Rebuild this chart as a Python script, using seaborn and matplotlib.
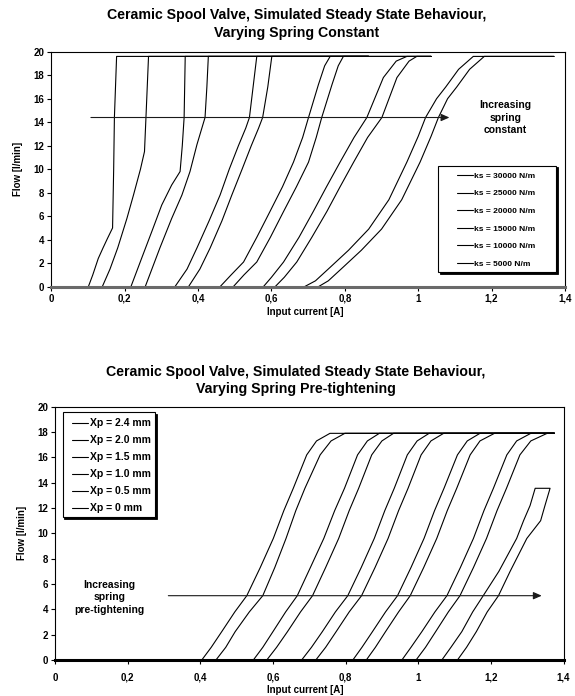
import pandas as pd
import numpy as np
import matplotlib
matplotlib.use("Agg")
import matplotlib.pyplot as plt
import seaborn as sns
from matplotlib.patches import Rectangle

# ---- top chart: varying spring constant (ks) ----
# each loop: "up" branch (right curve) and "down" branch (left curve)
ks_labels = ["ks = 30000 N/m", "ks = 25000 N/m", "ks = 20000 N/m",
             "ks = 15000 N/m", "ks = 10000 N/m", "ks = 5000 N/m"]

ks5000_down_i = [0.101, 0.113, 0.128, 0.141, 0.153, 0.167, 0.170, 0.172, 0.178]
ks5000_down_q = [0, 1.0, 2.4, 3.3, 4.1, 5.0, 10.0, 14.4, 19.6]
ks5000_up_i = [0.139, 0.160, 0.181, 0.206, 0.224, 0.243, 0.254, 0.258, 0.265]
ks5000_up_q = [0, 1.5, 3.3, 5.8, 7.8, 10.0, 11.5, 14.4, 19.6]

ks10000_down_i = [0.217, 0.246, 0.274, 0.301, 0.328, 0.351, 0.357, 0.362, 0.365]
ks10000_down_q = [0, 2.4, 4.7, 6.95, 8.65, 9.8, 12.0, 14.4, 19.6]
ks10000_up_i = [0.256, 0.296, 0.328, 0.356, 0.378, 0.397, 0.419, 0.424, 0.428]
ks10000_up_q = [0, 3.3, 5.8, 7.8, 9.8, 12.1, 14.4, 17.0, 19.6]

ks15000_down_i = [0.337, 0.370, 0.397, 0.430, 0.460, 0.485, 0.510, 0.530, 0.540, 0.550, 0.560]
ks15000_up_i = [0.374, 0.405, 0.433, 0.465, 0.492, 0.520, 0.545, 0.565, 0.576, 0.590, 0.601]
ks15000_q = [0, 1.5, 3.3, 5.6, 7.8, 10.0, 12.0, 13.5, 14.4, 17.0, 19.6]

ks20000_down_i = [0.460, 0.490, 0.524, 0.560, 0.596, 0.630, 0.660, 0.685, 0.701, 0.728, 0.745, 0.760]
ks20000_up_i = [0.496, 0.525, 0.560, 0.597, 0.633, 0.668, 0.701, 0.722, 0.737, 0.765, 0.782, 0.796]
ks20000_q = [0, 1.0, 2.1, 4.2, 6.4, 8.5, 10.6, 12.7, 14.4, 17.2, 18.8, 19.6]

ks25000_down_i = [0.578, 0.600, 0.633, 0.675, 0.714, 0.750, 0.787, 0.825, 0.860, 0.905, 0.940, 0.969]
ks25000_up_i = [0.610, 0.635, 0.669, 0.710, 0.751, 0.787, 0.824, 0.862, 0.901, 0.942, 0.975, 0.996]
ks25000_q = [0, 0.8, 2.1, 4.2, 6.4, 8.5, 10.6, 12.7, 14.4, 17.8, 19.2, 19.6]

ks30000_down_i = [0.690, 0.720, 0.760, 0.810, 0.865, 0.920, 0.969, 1.000, 1.020, 1.050, 1.075, 1.110, 1.150]
ks30000_up_i = [0.728, 0.755, 0.795, 0.845, 0.900, 0.955, 1.005, 1.035, 1.055, 1.080, 1.105, 1.140, 1.180]
ks30000_q = [0, 0.5, 1.65, 3.1, 4.9, 7.4, 10.6, 12.8, 14.4, 16.0, 17.0, 18.5, 19.6]

# maximum input current of each loop (30000 ... 5000)
ks_max_i = [1.37, 1.035, 1.035, 0.865, 0.865, 0.865]

# ---- bottom chart: varying spring pre-tightening (Xp) ----
xp_labels = ["Xp = 2.4 mm", "Xp = 2.0 mm", "Xp = 1.5 mm",
             "Xp = 1.0 mm", "Xp = 0.5 mm", "Xp = 0 mm"]

xp_q = [0, 1.0, 2.24, 3.8, 5.08, 7.3, 9.6, 11.8, 13.56, 16.2, 17.3, 17.9]
xp0_down_i = [0.404, 0.430, 0.459, 0.495, 0.528, 0.565, 0.601, 0.630, 0.656, 0.693, 0.720, 0.757]
xp0_up_i = [0.443, 0.470, 0.496, 0.535, 0.572, 0.605, 0.636, 0.663, 0.688, 0.730, 0.760, 0.798]
xp05_down_i = [0.546, 0.572, 0.600, 0.635, 0.667, 0.703, 0.740, 0.770, 0.797, 0.833, 0.860, 0.893]
xp05_up_i = [0.583, 0.610, 0.640, 0.676, 0.709, 0.745, 0.781, 0.810, 0.836, 0.872, 0.900, 0.932]
xp10_down_i = [0.679, 0.706, 0.736, 0.772, 0.806, 0.843, 0.879, 0.908, 0.934, 0.970, 0.997, 1.030]
xp10_up_i = [0.718, 0.745, 0.774, 0.810, 0.844, 0.881, 0.917, 0.946, 0.972, 1.008, 1.035, 1.070]
xp15_down_i = [0.820, 0.845, 0.874, 0.910, 0.943, 0.980, 1.016, 1.045, 1.071, 1.108, 1.135, 1.170]
xp15_up_i = [0.857, 0.882, 0.910, 0.946, 0.978, 1.015, 1.051, 1.080, 1.106, 1.143, 1.170, 1.210]
xp20_down_i = [0.955, 0.980, 1.010, 1.046, 1.079, 1.116, 1.152, 1.181, 1.207, 1.244, 1.271, 1.310]
xp20_up_i = [0.994, 1.020, 1.048, 1.083, 1.115, 1.152, 1.188, 1.217, 1.243, 1.280, 1.310, 1.355]

xp24_q = [0, 1.0, 2.24, 3.8, 5.08, 7.0, 9.6, 11.0, 12.2, 13.56]
xp24_down_i = [1.065, 1.090, 1.120, 1.150, 1.179, 1.222, 1.271, 1.290, 1.308, 1.322]
xp24_up_i = [1.108, 1.133, 1.160, 1.190, 1.221, 1.253, 1.299, 1.337, 1.349, 1.363]

xp_max_i = [1.363, 1.375, 1.375, 1.375, 1.375, 1.375]

x_ticks = [0, 0.2, 0.4, 0.6, 0.8, 1.0, 1.2, 1.4]
x_tick_labels = ["0", "0,2", "0,4", "0,6", "0,8", "1", "1,2", "1,4"]
y_ticks = [0, 2, 4, 6, 8, 10, 12, 14, 16, 18, 20]


def loop_frame(label, up_i, up_q, down_i, down_q, max_i):
    # current goes 0 -> max along the up branch, then back to 0 along the down branch
    top = up_q[-1]
    xs = [0] + list(up_i) + [max_i, max_i] + list(down_i[::-1]) + [0]
    ys = [0] + list(up_q) + [top, down_q[-1]] + list(down_q[::-1]) + [0]
    return pd.DataFrame({"current": xs, "flow": ys, "series": label})


top_df = pd.concat([
    loop_frame(ks_labels[0], ks30000_up_i, ks30000_q, ks30000_down_i, ks30000_q, ks_max_i[0]),
    loop_frame(ks_labels[1], ks25000_up_i, ks25000_q, ks25000_down_i, ks25000_q, ks_max_i[1]),
    loop_frame(ks_labels[2], ks20000_up_i, ks20000_q, ks20000_down_i, ks20000_q, ks_max_i[2]),
    loop_frame(ks_labels[3], ks15000_up_i, ks15000_q, ks15000_down_i, ks15000_q, ks_max_i[3]),
    loop_frame(ks_labels[4], ks10000_up_i, ks10000_up_q, ks10000_down_i, ks10000_down_q, ks_max_i[4]),
    loop_frame(ks_labels[5], ks5000_up_i, ks5000_up_q, ks5000_down_i, ks5000_down_q, ks_max_i[5]),
], ignore_index=True)

bottom_df = pd.concat([
    loop_frame(xp_labels[0], xp24_up_i, xp24_q, xp24_down_i, xp24_q, xp_max_i[0]),
    loop_frame(xp_labels[1], xp20_up_i, xp_q, xp20_down_i, xp_q, xp_max_i[1]),
    loop_frame(xp_labels[2], xp15_up_i, xp_q, xp15_down_i, xp_q, xp_max_i[2]),
    loop_frame(xp_labels[3], xp10_up_i, xp_q, xp10_down_i, xp_q, xp_max_i[3]),
    loop_frame(xp_labels[4], xp05_up_i, xp_q, xp05_down_i, xp_q, xp_max_i[4]),
    loop_frame(xp_labels[5], xp0_up_i, xp_q, xp0_down_i, xp_q, xp_max_i[5]),
], ignore_index=True)

sns.set_style("white")
plt.rcParams["font.family"] = ["Liberation Sans", "DejaVu Sans"]
plt.rcParams["font.weight"] = "bold"
plt.rcParams["text.color"] = "black"
plt.rcParams["axes.labelcolor"] = "black"
plt.rcParams["xtick.color"] = "black"
plt.rcParams["ytick.color"] = "black"

fig = plt.figure(figsize=(5.75, 6.96), dpi=100)
ax1 = fig.add_axes([0.0892, 0.5881, 0.8934, 0.3376])
ax2 = fig.add_axes([0.0957, 0.0517, 0.8843, 0.3639])


def style_axes(ax, bottom_color, label_pad):
    ax.set_xlim(0, 1.4)
    ax.set_ylim(0, 20)
    ax.set_xticks(x_ticks)
    ax.set_xticklabels(x_tick_labels)
    ax.set_yticks(y_ticks)
    for side in ["top", "left", "right"]:
        ax.spines[side].set_color("black")
        ax.spines[side].set_linewidth(0.8)
    ax.spines["bottom"].set_color(bottom_color)
    ax.spines["bottom"].set_linewidth(2.2)
    ax.tick_params(axis="both", direction="out", length=3, width=0.8, color="black",
                   labelcolor="black", labelsize=7, bottom=True, left=True)
    ax.tick_params(axis="x", pad=label_pad)
    ax.tick_params(axis="y", pad=2)
    for lab in ax.get_xticklabels() + ax.get_yticklabels():
        lab.set_fontweight("bold")
    ax.set_xlabel("Input current [A]", fontsize=7, fontweight="bold", color="black")
    ax.set_ylabel("Flow [l/min]", fontsize=7, fontweight="bold", color="black")
    ax.grid(False)


def draw_legend_box(ax, x0, y0, w, h, dx, dy):
    ax.add_patch(Rectangle((x0 + dx, y0 - dy), w, h, transform=ax.transAxes,
                           facecolor="black", edgecolor="black", lw=0.6, zorder=6))
    ax.add_patch(Rectangle((x0, y0), w, h, transform=ax.transAxes,
                           facecolor="white", edgecolor="black", lw=0.8, zorder=7))


# top chart
sns.lineplot(data=top_df, x="current", y="flow", hue="series", hue_order=ks_labels,
             palette=["black"] * 6, sort=False, estimator=None, linewidth=0.8,
             ax=ax1, legend=True)
style_axes(ax1, "#6a6a6a", 2)
ax1.xaxis.set_label_coords(0.494, -0.085)
ax1.yaxis.set_label_coords(-0.055, 0.5)
ax1.annotate("", xy=(1.085, 14.4), xytext=(0.108, 14.4),
             arrowprops=dict(arrowstyle="-|>,head_length=0.5,head_width=0.22",
                             color="#1a1a1a", lw=0.8, mutation_scale=10,
                             shrinkA=0, shrinkB=0))
ax1.text(1.238, 14.4, "Increasing\nspring\nconstant", ha="center", va="center",
         fontsize=7.5, fontweight="bold", linespacing=1.3, color="black")
handles, labels = ax1.get_legend_handles_labels()
draw_legend_box(ax1, 0.753, 0.061, 0.229, 0.454, 0.0035, 0.0075)
leg1 = ax1.legend(handles, labels, loc="upper left", bbox_to_anchor=(0.789, 0.488),
                  frameon=False, borderpad=0, borderaxespad=0,
                  handlelength=1.93, handletextpad=0.16, labelspacing=1.17,
                  prop={"weight": "bold", "size": 6}, labelcolor="black")
leg1.set_zorder(8)

# bottom chart
sns.lineplot(data=bottom_df, x="current", y="flow", hue="series", hue_order=xp_labels,
             palette=["black"] * 6, sort=False, estimator=None, linewidth=0.8,
             ax=ax2, legend=True)
style_axes(ax2, "black", 6)
ax2.xaxis.set_label_coords(0.492, -0.099)
ax2.yaxis.set_label_coords(-0.055, 0.5)
ax2.annotate("", xy=(1.340, 5.08), xytext=(0.312, 5.08),
             arrowprops=dict(arrowstyle="-|>,head_length=0.5,head_width=0.22",
                             color="#1a1a1a", lw=0.8, mutation_scale=10,
                             shrinkA=0, shrinkB=0))
ax2.text(0.1495, 4.95, "Increasing\nspring\npre-tightening", ha="center", va="center",
         fontsize=7.5, fontweight="bold", linespacing=1.3, color="black")
handles, labels = ax2.get_legend_handles_labels()
draw_legend_box(ax2, 0.015, 0.563, 0.182, 0.417, 0.0035, 0.0075)
leg2 = ax2.legend(handles, labels, loc="upper left", bbox_to_anchor=(0.033, 0.954),
                  frameon=False, borderpad=0, borderaxespad=0,
                  handlelength=1.6, handletextpad=0.16, labelspacing=0.67,
                  prop={"weight": "bold", "size": 7.5}, labelcolor="black")
leg2.set_zorder(8)

# titles
fig.text(0.5165, 0.9784, "Ceramic Spool Valve, Simulated Steady State Behaviour,",
         ha="center", va="center", fontsize=10.2, fontweight="bold", color="black")
fig.text(0.5165, 0.9526, "Varying Spring Constant",
         ha="center", va="center", fontsize=10.2, fontweight="bold", color="black")
fig.text(0.5148, 0.4659, "Ceramic Spool Valve, Simulated Steady State Behaviour,",
         ha="center", va="center", fontsize=10.2, fontweight="bold", color="black")
fig.text(0.5148, 0.4407, "Varying Spring Pre-tightening",
         ha="center", va="center", fontsize=10.2, fontweight="bold", color="black")

fig.savefig("out.png", dpi=100)
